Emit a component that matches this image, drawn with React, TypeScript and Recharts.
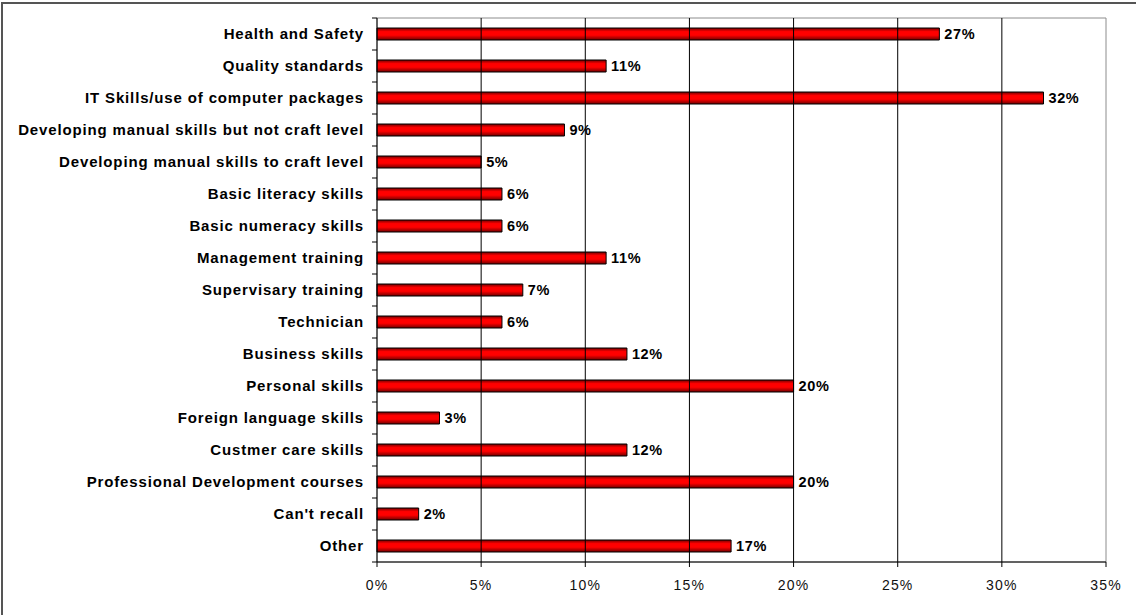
import { Bar, BarChart, LabelList, ReferenceArea, ReferenceLine, XAxis, YAxis } from "recharts";

const categories = [
  "Health and Safety",
  "Quality standards",
  "IT Skills/use of computer packages",
  "Developing manual skills but not craft level",
  "Developing manual skills to craft level",
  "Basic literacy skills",
  "Basic numeracy skills",
  "Management training",
  "Supervisary training",
  "Technician",
  "Business skills",
  "Personal skills",
  "Foreign language skills",
  "Custmer care skills",
  "Professional Development courses",
  "Can't recall",
  "Other",
];
const values = [27, 11, 32, 9, 5, 6, 6, 11, 7, 6, 12, 20, 3, 12, 20, 2, 17];
const xTicks = [0, 5, 10, 15, 20, 25, 30, 35];
const gridAt = [5, 10, 15, 20, 25, 30];

const data = categories.map((name, i) => ({ name, value: values[i] }));

const FONT = "'Liberation Sans', Arial, sans-serif";
const BAND = 32;

const CatTick = (props: any) => {
  const { x, y, payload, index } = props;
  return (
    <g>
      <text x={x - 13} y={y} dy={5} textAnchor="end" fontFamily={FONT} fontWeight="bold" fontSize={15} letterSpacing={0.85} fill="#000">
        {payload.value}
      </text>
      {index === 0 && <line x1={x - 5} x2={x} y1={y - BAND / 2} y2={y - BAND / 2} stroke="#000" />}
      <line x1={x - 5} x2={x} y1={y + BAND / 2} y2={y + BAND / 2} stroke="#000" />
    </g>
  );
};

export default function App() {
  return (
    <div style={{ position: "absolute", left: 0, top: 0, width: 1136, height: 615, background: "#fff", overflow: "hidden" }}>
      <div style={{ position: "absolute", left: 1, top: 2, width: 1140, height: 620, borderLeft: "2px solid #555", borderTop: "2px solid #555" }} />
      <BarChart
        width={1136}
        height={615}
        data={data}
        layout="vertical"
        margin={{ top: 18, right: 30, left: 0, bottom: 23 }}
        barSize={12}
      >
        <defs>
          <linearGradient id="redBar" x1="0" y1="0" x2="0" y2="1">
            <stop offset="0%" stopColor="#700000" />
            <stop offset="30%" stopColor="#ff0000" />
            <stop offset="60%" stopColor="#ff0000" />
            <stop offset="100%" stopColor="#700000" />
          </linearGradient>
        </defs>
        <ReferenceArea x1={0} x2={35} fill="none" stroke="#8c8c8c" strokeWidth={1} />
        {gridAt.map((g) => (
          <ReferenceLine key={g} x={g} stroke="#000" strokeWidth={1} />
        ))}
        <XAxis
          type="number"
          domain={[0, 35]}
          ticks={xTicks}
          tickFormatter={(v) => `${v}%`}
          height={30}
          tickSize={5}
          tickMargin={13}
          stroke="#000"
          tick={{ fontFamily: FONT, fontSize: 14, fill: "#111", letterSpacing: 1.2 }}
          interval={0}
        />
        <YAxis
          type="category"
          dataKey="name"
          width={377}
          stroke="#000"
          tickLine={false}
          tickSize={0}
          tickMargin={0}
          interval={0}
          tick={<CatTick />}
        />
        <Bar dataKey="value" fill="url(#redBar)" stroke="#000" strokeWidth={1} isAnimationActive={false}>
          <LabelList
            dataKey="value"
            position="right"
            offset={5}
            formatter={(v: any) => `${v}%`}
            style={{ fontFamily: FONT, fontWeight: "bold", fontSize: 14.5, letterSpacing: 0.6, fill: "#000" }}
          />
        </Bar>
      </BarChart>
    </div>
  );
}
